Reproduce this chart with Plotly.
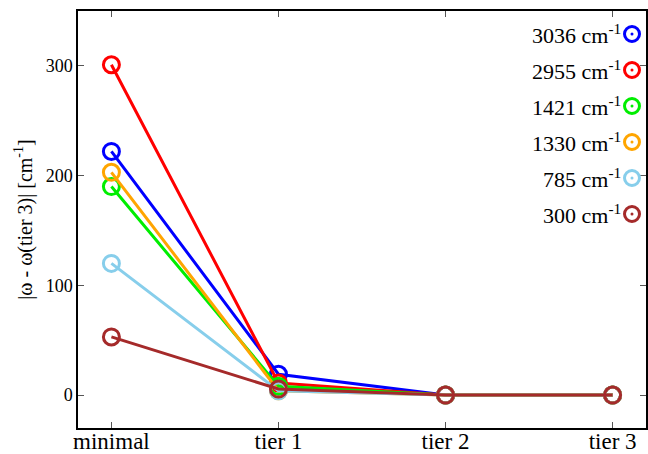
import plotly.graph_objects as go

categories = ["minimal", "tier 1", "tier 2", "tier 3"]
labels = ["3036", "2955", "1421", "1330", "785", "300"]
colors = ["#0000ff", "#ff0000", "#00ee00", "#ffa500", "#87ceeb", "#a52a2a"]
s3036 = [222, 19, 0, 0]
s2955 = [301, 11, 0, 0]
s1421 = [190, 8, 0, 0]
s1330 = [203, 4, 0, 0]
s785 = [120, 4, 0, 0]
s300 = [53, 5.5, 0, 0]
series = [s3036, s2955, s1421, s1330, s785, s300]
yticks = [0, 100, 200, 300]

FONT = "Liberation Serif"
fig = go.Figure()
xs = list(range(len(categories)))
for lab, col, ys in zip(labels, colors, series):
    fig.add_trace(go.Scatter(
        x=xs, y=ys, mode="lines+markers", name=f"{lab} cm<sup>-1</sup>",
        line=dict(color=col, width=3),
        marker=dict(symbol="circle-open", size=16, color=col, line=dict(width=3, color=col)),
        showlegend=False, cliponaxis=False,
    ))

# manual legend (text left of symbol)
W, H = 648, 454
ml, mr, mt, mb = 78, 2, 11, 26
pw, ph = W - ml - mr, H - mt - mb
for i, (lab, col) in enumerate(zip(labels, colors)):
    ypx = 34 + 36 * i
    yp = 1 - (ypx - mt) / ph
    xp = (632 - ml) / pw
    fig.add_annotation(x=(623 - ml) / pw, y=yp, xref="paper", yref="paper",
                       xanchor="right", yanchor="middle", showarrow=False,
                       text=f"{lab} cm<sup>-1</sup>", font=dict(family=FONT, size=22, color="black"))
    fig.add_shape(type="circle", xref="paper", yref="paper", xsizemode="pixel", ysizemode="pixel",
                  xanchor=xp, yanchor=yp, x0=-7.5, x1=7.5, y0=-7.5, y1=7.5,
                  line=dict(color=col, width=3))
    fig.add_shape(type="circle", xref="paper", yref="paper", xsizemode="pixel", ysizemode="pixel",
                  xanchor=xp, yanchor=yp, x0=-1.5, x1=1.5, y0=-1.5, y1=1.5,
                  line=dict(color=col, width=0), fillcolor=col)

axis_common = dict(showline=True, linecolor="black", linewidth=1.5, mirror="ticks",
                   ticks="inside", ticklen=6, tickcolor="#555", showgrid=False, zeroline=False,
                   automargin=False)
fig.update_layout(
    width=W, height=H, margin=dict(l=ml, r=mr, t=mt, b=mb),
    plot_bgcolor="white", paper_bgcolor="white",
    xaxis=dict(range=[-0.2, 3.2], tickvals=xs, ticktext=categories,
               tickfont=dict(family=FONT, size=23, color="black"), ticklabelstandoff=-8,
               **axis_common),
    yaxis=dict(range=[-30, 350], tickvals=yticks, ticktext=[str(t) for t in yticks],
               tickfont=dict(family=FONT, size=18, color="black"),
               title=dict(text="|ω - ω(tier 3)| [cm<sup>-1</sup>]", font=dict(family=FONT, size=20, color="black"), standoff=8),
               **axis_common),
)
fig.write_html("out.html", config={"displayModeBar": False},
               post_script="document.body.style.margin='0';")
